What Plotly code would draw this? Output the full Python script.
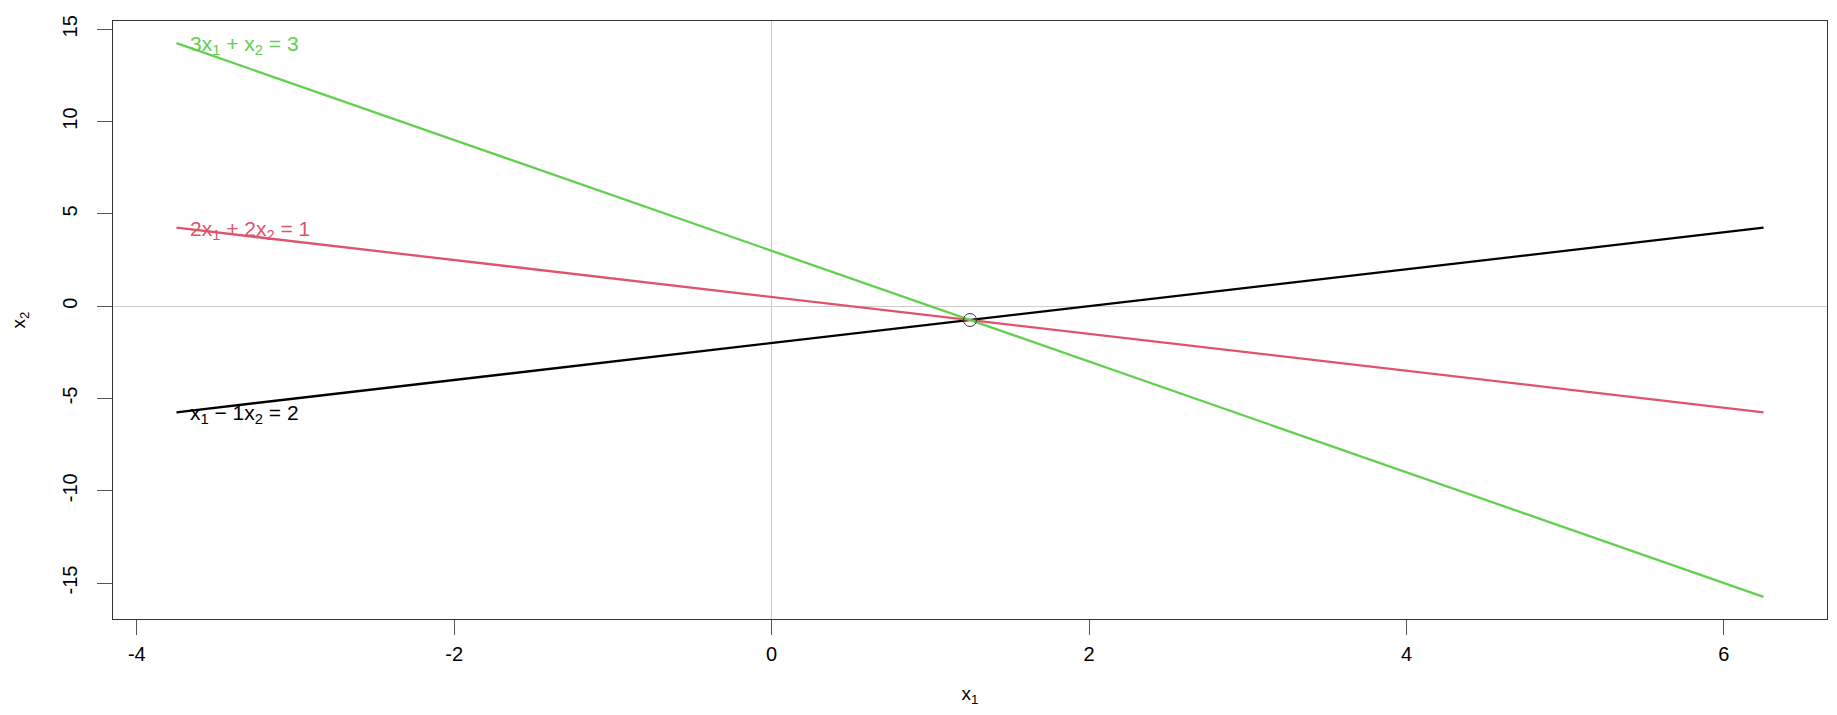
"""Three linear equations in two unknowns and their common solution."""

import plotly.graph_objects as go

# line end points (x1) and the x2 value of each equation there
x_ends = [-3.75, 6.25]
eq1_x2 = [-5.75, 4.25]     # x1 - 1x2 = 2
eq2_x2 = [4.25, -5.75]     # 2x1 + 2x2 = 1
eq3_x2 = [14.25, -15.75]   # 3x1 + x2 = 3

labels = [
    "x<sub>1</sub> \u2212 1x<sub>2</sub> = 2",
    "2x<sub>1</sub> + 2x<sub>2</sub> = 1",
    "3x<sub>1</sub> + x<sub>2</sub> = 3",
]
colors = ["#000000", "#DF536B", "#61D04F"]

solution_x1 = [1.25]
solution_x2 = [-0.75]

x_ticks = [-4, -2, 0, 2, 4, 6]
x_tick_text = ["-4", "-2", "0", "2", "4", "6"]
y_ticks = [-15, -10, -5, 0, 5, 10, 15]
y_tick_text = ["-15", "-10", "-5", "0", "5", "10", "15"]

FONT = "Liberation Sans, Arial, sans-serif"

fig = go.Figure()

for ys, lab, col in zip([eq1_x2, eq2_x2, eq3_x2], labels, colors):
    fig.add_trace(go.Scatter(
        x=x_ends, y=ys, mode="lines", name=lab,
        line=dict(color=col, width=2.3), showlegend=False,
    ))
    fig.add_annotation(
        x=x_ends[0], y=ys[0], text=lab, showarrow=False,
        xanchor="left", yanchor="middle", xshift=12, yshift=-2,
        font=dict(family=FONT, size=21, color=col),
    )

fig.add_trace(go.Scatter(
    x=solution_x1, y=solution_x2, mode="markers", showlegend=False,
    marker=dict(symbol="circle-open", size=13, color="#333333", line=dict(width=1)),
))

axis_common = dict(
    showgrid=False, showline=True, linecolor="#333333", linewidth=1, mirror=True,
    ticks="outside", ticklen=15, tickcolor="#555555", tickwidth=1,
    zeroline=True, zerolinecolor="#cccccc", zerolinewidth=1,
    tickfont=dict(family=FONT, size=20, color="#000000"),
    automargin=False,
)

fig.update_xaxes(
    range=[-4.15, 6.65], tickvals=x_ticks, ticktext=x_tick_text, ticklabelstandoff=2,
    title=dict(text="x<sub>1</sub>", font=dict(family=FONT, size=19, color="#000000"), standoff=32),
    **axis_common,
)
fig.update_yaxes(
    range=[-16.95, 15.45], tickvals=y_ticks, ticktext=y_tick_text, tickangle=-90,
    ticklabelstandoff=12,
    title=dict(text="x<sub>2</sub>", font=dict(family=FONT, size=19, color="#000000"), standoff=37),
    **axis_common,
)

# the page body has an 8px margin, so the figure is sized to fit inside it
fig.update_layout(
    width=1821, height=699,
    plot_bgcolor="white", paper_bgcolor="white",
    margin=dict(l=105, r=2, t=13, b=88),
)

fig.write_html("out.html")
